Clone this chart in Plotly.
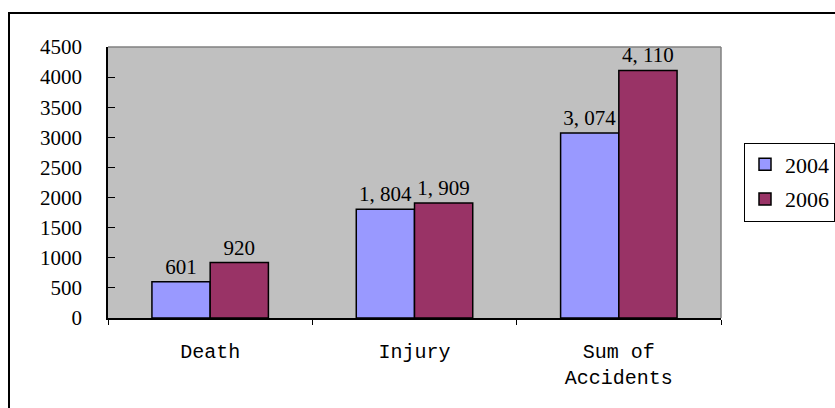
import plotly.graph_objects as go

# Accident statistics by category
categories = ["Death", "Injury", "Sum of<br>Accidents"]
years = ["2004", "2006"]
values_2004 = [601, 1804, 3074]
values_2006 = [920, 1909, 4110]

colors = {"2004": "#9999FF", "2006": "#993366"}
num_font = "Liberation Serif, Times New Roman, serif"
cat_font = "Liberation Mono, Courier New, monospace"


def label(v):
    return f"{v:,}".replace(",", ", ")


fig = go.Figure()
for year, vals in zip(years, [values_2004, values_2006]):
    fig.add_trace(go.Bar(
        name=year,
        x=categories,
        y=vals,
        legendgroup=year,
        marker=dict(color=colors[year], line=dict(color="black", width=1.5)),
        text=[label(v) for v in vals],
        textposition="outside",
        constraintext="none",
        cliponaxis=False,
        textfont=dict(family=num_font, size=21, color="black"),
    ))

W, H = 835, 408
L, R, T, B = 108, 721, 47, 318
pw, ph = R - L, B - T


def px_x(x):
    return (x - L) / pw


def px_y(y):
    return (B - y) / ph


fig.update_layout(
    width=W, height=H,
    margin=dict(l=L, r=W - R, t=T, b=H - B, autoexpand=False),
    paper_bgcolor="white",
    plot_bgcolor="#C0C0C0",
    barmode="group",
    bargap=0.43,
    bargroupgap=0,
    showlegend=True,
    legend=dict(
        x=px_x(744), y=px_y(182), xanchor="left", yanchor="middle",
        bordercolor="black", borderwidth=1, bgcolor="white",
        font=dict(family=num_font, size=22, color="black"),
        tracegroupgap=3,
        traceorder="grouped",
        itemwidth=30,
    ),
    xaxis=dict(
        showline=True, linecolor="black", linewidth=1.5,
        ticks="outside", tickson="boundaries", ticklen=5, tickcolor="black",
        tickfont=dict(family=cat_font, size=20, color="black"),
        ticklabelstandoff=14,
        showgrid=False,
    ),
    yaxis=dict(
        range=[0, 4500], dtick=500,
        showline=True, linecolor="black", linewidth=1.5,
        ticks="inside", ticklen=7, tickcolor="black",
        tickfont=dict(family=num_font, size=21, color="black"),
        ticklabelstandoff=20,
        showgrid=False, zeroline=False,
    ),
    shapes=[
        # plot area frame (top and right edges)
        dict(type="line", xref="paper", yref="paper", x0=0, x1=1, y0=1, y1=1,
             line=dict(color="#808080", width=1.5)),
        dict(type="line", xref="paper", yref="paper", x0=1, x1=1, y0=0, y1=1,
             line=dict(color="#808080", width=1.5)),
        # chart outer border
        dict(type="rect", xref="paper", yref="paper",
             x0=px_x(9), x1=px_x(W + 40), y0=px_y(H + 40), y1=px_y(13),
             line=dict(color="black", width=2)),
    ],
)

fig.write_html("out.html")
